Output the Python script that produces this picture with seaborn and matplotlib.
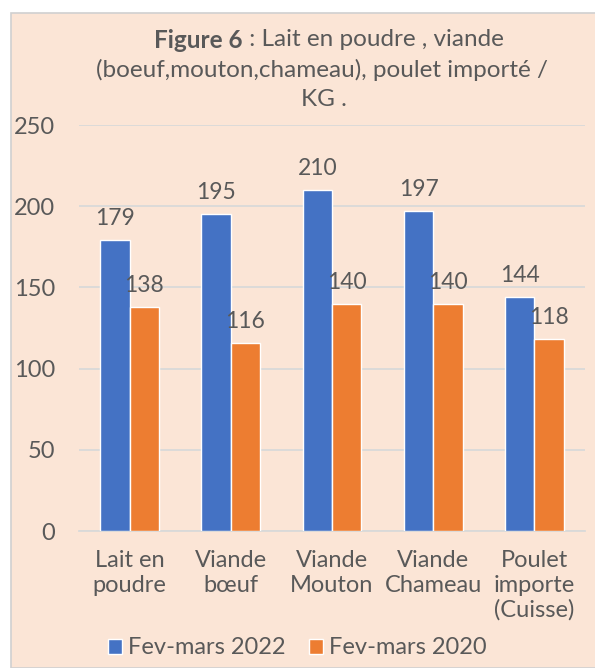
import pandas as pd
import matplotlib.pyplot as plt
import seaborn as sns
from matplotlib.patches import Rectangle

# values
categories = ["Lait en\npoudre", "Viande\nbœuf", "Viande\nMouton", "Viande\nChameau", "Poulet\nimporte\n(Cuisse)"]
series_names = ["Fev-mars 2022", "Fev-mars 2020"]
vals_2022 = [179, 195, 210, 197, 144]
vals_2020 = [138, 116, 140, 140, 118]

df = pd.DataFrame({
    "cat": categories * 2,
    "periode": [series_names[0]] * 5 + [series_names[1]] * 5,
    "prix": vals_2022 + vals_2020,
})

sns.set_style("white")
plt.rcParams["font.family"] = ["Lato", "DejaVu Sans"]

bg = "#FBE5D6"
txt = "#595959"
grid = "#D9D9D9"

fig = plt.figure(figsize=(5.95, 6.68), dpi=100)
fig.patch.set_facecolor("white")
fig.patches.append(Rectangle((11 / 595, 0), 1, 1 - 13 / 668, transform=fig.transFigure,
                             facecolor=bg, edgecolor="#D0D0D0", lw=1.2, zorder=-5))

ax = fig.add_axes([79 / 595, 1 - 531 / 668, 506 / 595, 406 / 668])
ax.set_zorder(2)
ax.patch.set_alpha(0)

sns.barplot(data=df, x="cat", y="prix", hue="periode", palette=["#4472C4", "#ED7D31"],
            width=0.58, gap=0, saturation=1, ax=ax, zorder=3)

for cont in ax.containers:
    ax.bar_label(cont, padding=8, fontsize=16.5, color=txt)

ax.set_ylim(0, 250)
ax.set_yticks(range(0, 251, 50))
ax.set_xlabel("")
ax.set_ylabel("")
ax.yaxis.grid(True, color=grid, lw=1.3, zorder=0)
ax.set_axisbelow(True)
for s in ["left", "right", "top"]:
    ax.spines[s].set_visible(False)
ax.spines["bottom"].set_color(grid)
ax.spines["bottom"].set_linewidth(1.3)
ax.tick_params(axis="both", length=0, labelsize=17, colors=txt)
ax.tick_params(axis="y", pad=17)
ax.tick_params(axis="x", pad=14)
for lab in ax.get_xticklabels():
    lab.set_linespacing(1.2)

handles, labels = ax.get_legend_handles_labels()
ax.legend_.remove()
fig.legend(handles, labels, loc="center", bbox_to_anchor=(0.5, 1 - 648 / 668), ncol=2,
           frameon=False, fontsize=17, labelcolor=txt, handlelength=0.6, handleheight=0.6,
           handletextpad=0.25, columnspacing=1.0)

# title with bold prefix
xs = 243 / 595
fig.text(xs, 1 - 40 / 668, "Figure 6", ha="right", va="center", fontsize=17.5,
         fontweight="bold", color=txt)
fig.text(xs, 1 - 40 / 668, " : Lait en poudre , viande", ha="left", va="center",
         fontsize=17.5, color=txt)
fig.text(322 / 595, 1 - 70 / 668, "(boeuf,mouton,chameau), poulet importé /", ha="center",
         va="center", fontsize=17.5, color=txt)
fig.text(324 / 595, 1 - 100 / 668, "KG .", ha="center", va="center", fontsize=17.5, color=txt)

fig.savefig("out.png", dpi=100, facecolor=fig.get_facecolor())
